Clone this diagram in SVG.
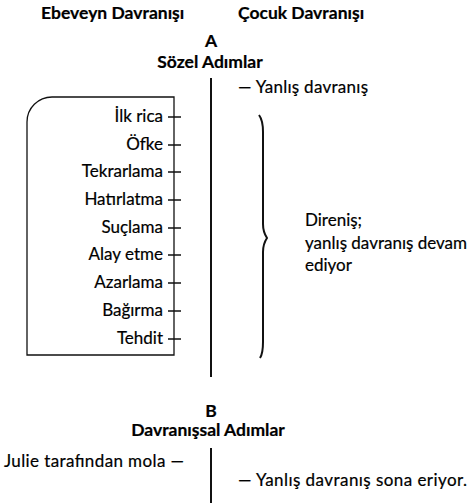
<svg xmlns="http://www.w3.org/2000/svg" width="473" height="504" viewBox="0 0 473 504">
<style>
text{font-family:Lato,"Open Sans","Noto Sans",sans-serif;font-size:17px;fill:#000;stroke:#000;stroke-width:0.2}
.b{font-weight:bold;font-size:17.5px}
.m{text-anchor:middle}
.e{text-anchor:end}
.ln{stroke:#111;stroke-width:1.3;fill:none}
.thick{stroke:#111;stroke-width:2;fill:none}
</style>
<rect width="473" height="504" fill="#fff"/>
<g id="headers">
<text class="b" x="41" y="19">Ebeveyn Davranışı</text>
<text class="b" x="238" y="19">Çocuk Davranışı</text>
</g>
<g id="sectionA">
<text class="b m" x="211" y="47">A</text>
<text class="b m" x="210" y="68">Sözel Adımlar</text>
</g>
<g id="parent-box">
<path class="ln" d="M174,97 H52 A25,25 0 0 0 27,122 V355 H174 Z"/>
</g>
<g id="parent-steps">
<text class="e" x="163" y="122">İlk rica</text>
<text class="e" x="163" y="150">Öfke</text>
<text class="e" x="163" y="177">Tekrarlama</text>
<text class="e" x="163" y="205">Hatırlatma</text>
<text class="e" x="163" y="233">Suçlama</text>
<text class="e" x="163" y="260">Alay etme</text>
<text class="e" x="163" y="288">Azarlama</text>
<text class="e" x="163" y="316">Bağırma</text>
<text class="e" x="163" y="344">Tehdit</text>
</g>
<g id="connectors">
<path class="ln" d="M168,117H181M168,145H181M168,172H181M168,200H181M168,228H181M168,255H181M168,283H181M168,311H181M168,339H181"/>
<path class="thick" d="M211,78V377"/>
<path class="thick" d="M259,115 C262,119 263,124 263,132 V224 C263,231 265,235 267,238 C265,241 263,245 263,252 V342 C263,350 262,355 260,358"/>
<path class="thick" d="M211,448V503"/>
</g>
<g id="child-A">
<text x="238" y="93" textLength="130">— Yanlış davranış</text>
<text x="305" y="226">Direniş;</text>
<text x="305" y="249">yanlış davranış devam</text>
<text x="305" y="271">ediyor</text>
</g>
<g id="sectionB">
<text class="b m" x="211" y="417">B</text>
<text class="b m" x="208" y="436">Davranışsal Adımlar</text>
</g>
<g id="B-steps">
<text x="4" y="467" textLength="180">Julie tarafından mola —</text>
<text x="238" y="486" textLength="229">— Yanlış davranış sona eriyor.</text>
</g>
</svg>
